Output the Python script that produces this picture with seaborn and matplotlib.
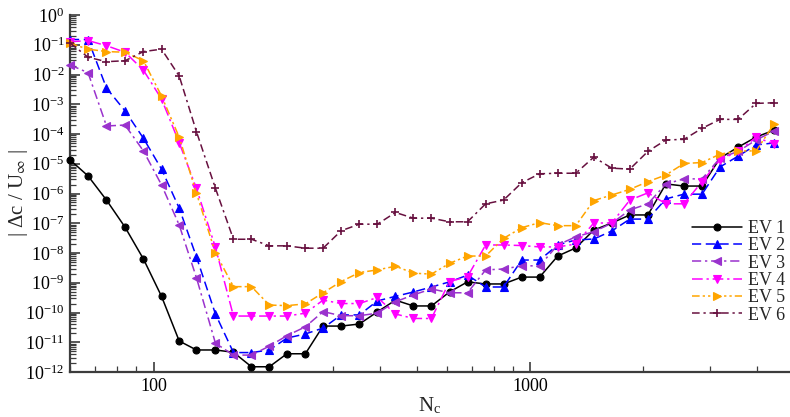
import numpy as np
import pandas as pd
import matplotlib
matplotlib.use("Agg")
import matplotlib.pyplot as plt
import seaborn as sns
from matplotlib.ticker import LogLocator, NullFormatter, FuncFormatter

# ---------------- data ----------------
N_c = [60, 67, 75, 84, 94, 105, 117, 130, 146, 163, 182, 203, 226, 253, 282,
       315, 352, 393, 439, 490, 547, 611, 682, 762, 850, 950, 1060, 1184, 1322,
       1476, 1648, 1840, 2055, 2294, 2562, 2861, 3194, 3567, 3983, 4447]

ev1 = [1.35e-5, 3.9e-6, 6.0e-7, 7.4e-8, 6.3e-9, 3.5e-10, 1.1e-11, 5.5e-12, 5.5e-12, 4.6e-12,
       1.5e-12, 1.5e-12, 4.1e-12, 4.1e-12, 3.5e-11, 3.5e-11, 4.1e-11, 1.05e-10, 2.6e-10, 1.66e-10,
       1.66e-10, 4.9e-10, 1.07e-9, 9.1e-10, 9.1e-10, 1.55e-9, 1.55e-9, 7.9e-9, 1.48e-8, 5.9e-8,
       1.02e-7, 1.9e-7, 1.9e-7, 2.1e-6, 1.78e-6, 1.78e-6, 1.55e-5, 3.6e-5, 7.9e-5, 1.35e-4]

ev2 = [1.5e-1, 1.5e-1, 3.5e-3, 6.0e-4, 7.2e-5, 6.6e-6, 3.2e-7, 7.4e-9, 8.9e-11, 4.5e-12,
       4.5e-12, 5.5e-12, 1.38e-11, 1.9e-11, 3.0e-11, 8.3e-11, 8.3e-11, 2.45e-10, 3.5e-10, 4.9e-10,
       7.2e-10, 1.07e-9, 1.8e-9, 7.2e-10, 7.2e-10, 5.8e-9, 5.8e-9, 1.86e-8, 2.75e-8, 2.95e-8,
       5.5e-8, 1.38e-7, 1.38e-7, 6.6e-7, 9.5e-7, 9.5e-7, 7.8e-6, 1.8e-5, 4.3e-5, 5.0e-5]

ev3 = [2.1e-2, 1.15e-2, 1.86e-4, 2.0e-4, 2.7e-5, 1.95e-6, 8.7e-8, 1.48e-9, 9.3e-12, 3.7e-12,
       3.7e-12, 7.4e-12, 1.66e-11, 3.3e-11, 1.07e-10, 7.8e-11, 7.8e-11, 9.5e-11, 2.3e-10, 3.9e-10,
       6.2e-10, 4.6e-10, 4.6e-10, 2.7e-9, 2.9e-9, 3.7e-9, 3.7e-9, 1.86e-8, 3.5e-8, 5.2e-8,
       1.0e-7, 2.8e-7, 4.5e-7, 2.1e-6, 3.1e-6, 3.1e-6, 1.55e-5, 2.6e-5, 6.3e-5, 1.26e-4]

ev4 = [1.26e-1, 1.38e-1, 9.3e-2, 5.6e-2, 1.4e-2, 1.5e-3, 5.1e-5, 1.48e-6, 1.55e-8, 7.6e-11,
       7.6e-11, 7.6e-11, 7.6e-11, 9.5e-11, 2.6e-10, 2.0e-10, 2.0e-10, 3.2e-10, 8.9e-11, 6.3e-11,
       6.3e-11, 1.1e-9, 1.6e-9, 1.86e-8, 1.86e-8, 1.78e-8, 1.6e-8, 1.6e-8, 2.0e-8, 1.02e-7,
       1.02e-7, 6.0e-7, 1.05e-6, 4.5e-7, 4.5e-7, 2.5e-6, 1.35e-5, 2.6e-5, 7.8e-5, 4.6e-5]

ev5 = [1.12e-1, 7.1e-2, 5.9e-2, 5.6e-2, 2.9e-2, 1.9e-3, 7.8e-5, 1.02e-6, 1.02e-8, 7.4e-10,
       7.4e-10, 1.78e-10, 1.7e-10, 1.95e-10, 4.6e-10, 1.1e-9, 2.2e-9, 2.7e-9, 3.6e-9, 2.1e-9,
       1.95e-9, 4.5e-9, 7.9e-9, 7.9e-9, 3.1e-8, 7.1e-8, 1.05e-7, 8.3e-8, 8.3e-8, 5.8e-7,
       8.9e-7, 1.38e-6, 2.5e-6, 4.2e-6, 1.02e-5, 1.1e-5, 2.1e-5, 2.7e-5, 2.7e-5, 2.2e-4]

ev6 = [1.15e-1, 3.8e-2, 2.7e-2, 2.9e-2, 5.9e-2, 7.1e-2, 8.9e-3, 1.2e-4, 1.5e-6, 2.9e-8,
       2.9e-8, 1.74e-8, 1.74e-8, 1.45e-8, 1.45e-8, 5.6e-8, 9.3e-8, 9.3e-8, 2.3e-7, 1.48e-7,
       1.48e-7, 1.12e-7, 1.12e-7, 4.5e-7, 6.0e-7, 2.3e-6, 4.6e-6, 4.8e-6, 4.8e-6, 1.66e-5,
       7.1e-6, 6.6e-6, 2.6e-5, 6.3e-5, 6.6e-5, 1.55e-4, 3.1e-4, 3.1e-4, 1.07e-3, 1.12e-3]

labels = ["EV 1", "EV 2", "EV 3", "EV 4", "EV 5", "EV 6"]
series = [ev1, ev2, ev3, ev4, ev5, ev6]

# ---------------- styles ----------------
colors = ["#000000", "#0000ff", "#9a32cd", "#ff00ff", "#ffa500", "#67103f"]
markers = ["o", "^", "<", "v", ">", "+"]
msizes = [5.0, 5.5, 5.5, 5.5, 5.5, 6.0]
lstyles = ["-", (0, (6, 3)), (0, (6, 2.5, 1.5, 2.5)), (0, (7, 2.5, 1.5, 2.5)),
           (0, (5, 2, 1.5, 2, 1.5, 2)), (0, (5, 2.5, 1.5, 2.5, 5, 2.5))]

sns.set_theme(style="ticks")
plt.rcParams["font.family"] = ["Liberation Serif", "DejaVu Serif"]
plt.rcParams["mathtext.fontset"] = "stix"

fig = plt.figure(figsize=(7.9, 4.17), dpi=100)
ax = fig.add_axes([70 / 790, 45 / 417, 720 / 790, 357 / 417])

for lab, vals, c, m, ms, ls in zip(labels, series, colors, markers, msizes, lstyles):
    df = pd.DataFrame({"N": N_c, "err": vals})
    sns.lineplot(data=df, x="N", y="err", ax=ax, color=c, marker=m, markersize=ms,
                 linestyle=ls, linewidth=1.1, markeredgecolor=c,
                 markeredgewidth=1.2 if m == "+" else 0.8,
                 label=lab, estimator=None, clip_on=False, zorder=3)

ax.set_xscale("log")
ax.set_yscale("log")
ax.set_xlim(60, 4900)
ax.set_ylim(1e-12, 1)

ax.yaxis.set_major_locator(LogLocator(base=10, numticks=30))
ax.yaxis.set_minor_locator(LogLocator(base=10, subs=np.arange(2, 10), numticks=30))
ax.yaxis.set_minor_formatter(NullFormatter())
ax.xaxis.set_major_locator(LogLocator(base=10, numticks=10))
ax.xaxis.set_minor_locator(LogLocator(base=10, subs=np.arange(2, 10), numticks=10))
ax.xaxis.set_minor_formatter(NullFormatter())
ax.xaxis.set_major_formatter(FuncFormatter(lambda v, p: f"{int(round(v))}"))

spine_c = "#3c3c3c"
for s in ["top", "right"]:
    ax.spines[s].set_visible(False)
for s in ["left", "bottom"]:
    ax.spines[s].set_color(spine_c)
    ax.spines[s].set_linewidth(1.6)
ax.tick_params(which="major", direction="in", length=7, width=1.2, color=spine_c,
               labelsize=13, pad=4, labelcolor="black")
ax.tick_params(which="minor", direction="in", length=4, width=0.9, color=spine_c)

ax.set_xlabel("N$_\\mathregular{c}$", fontsize=15, labelpad=0)
ax.set_ylabel("| $\\mathregular{\\Delta}$c / U$_\\infty$ |", fontsize=15)
ax.xaxis.set_label_coords(0.5, -0.065)
ax.yaxis.set_label_coords(-0.056, 0.5)

leg = ax.legend(loc="lower right", bbox_to_anchor=(0.993, 0.135), frameon=False,
                fontsize=13, handlelength=2.8, handletextpad=0.3, labelspacing=0.02,
                borderpad=0.0, borderaxespad=0.0)

fig.savefig("out.png", dpi=100)
